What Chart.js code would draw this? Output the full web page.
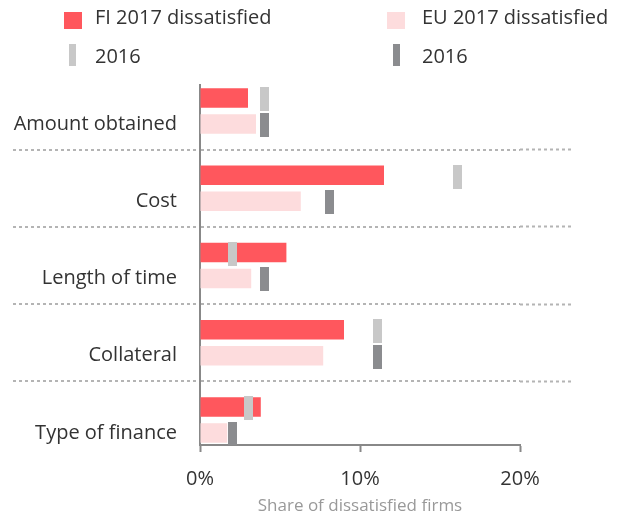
<!DOCTYPE html>
<html>
<head>
<meta charset="utf-8">
<script src="https://cdn.jsdelivr.net/npm/chart.js@4"></script>
<style>
  body { margin: 0; background: #fff; }
  #wrap { position: relative; width: 625px; height: 519px; }
  #legend { position: absolute; left: 0; top: 0; font: 20px 'Open Sans'; color: #333; }
  #legend span { position: absolute; display: block; }
  #legend .txt { line-height: 27px; white-space: nowrap; }
  /* columns */
  #legend .c0.box { left: 64px; } #legend .c0.txt { left: 95px; }
  #legend .c1.box { left: 387px; } #legend .c1.txt { left: 422px; }
  #legend .c0.mark { left: 69px; } #legend .c1.mark { left: 393px; }
  /* rows */
  #legend .box { top: 12px; width: 18px; height: 17px; }
  #legend .mark { top: 44px; width: 7px; height: 22px; }
  #legend .r0.txt { top: 3px; } #legend .r1.txt { top: 42px; }
</style>
</head>
<body>
<div id="wrap">
  <canvas id="chart"></canvas>
  <div id="legend"></div>
</div>
<script>
const categories = ['Amount obtained', 'Cost', 'Length of time', 'Collateral', 'Type of finance']
const fi2017 = [3.0, 11.5, 5.4, 9.0, 3.8]
const eu2017 = [3.5, 6.3, 3.2, 7.7, 1.7]
const fi2016 = [4.0, 16.1, 2.0, 11.1, 3.0]
const eu2016 = [4.0, 8.1, 4.0, 11.1, 2.0]
const xTicks = [0, 10, 20]

const red = '#ff575d'
const pink = '#fddcdd'
const lightGray = '#c8c8c8'
const darkGray = '#8b8c8f'
const dotted = '#b4b4b4'

Chart.defaults.font.family = "'Open Sans'"

// small vertical bar used as the 2016 marker
function markerStyle(color) {
  const c = document.createElement('canvas')
  c.width = 9
  c.height = 24
  const g = c.getContext('2d')
  g.fillStyle = color
  g.fillRect(0, 0, 9, 24)
  return c
}

const bars = vals => vals.map((v, i) => ({ x: v, y: i }))
const marks = (vals, shift) => vals.map((v, i) => ({ x: v, y: i + shift }))

const yRange = { min: -0.337, max: 4.324 }

const chart = new Chart(document.getElementById('chart'), {
  type: 'bar',
  data: {
    datasets: [
      { type: 'bar', label: 'FI 2017 dissatisfied', data: bars(fi2017), backgroundColor: red, yAxisID: 'y', order: 1, categoryPercentage: 0.673, barPercentage: 0.75 },
      { type: 'bar', label: 'EU 2017 dissatisfied', data: bars(eu2017), backgroundColor: pink, yAxisID: 'y', order: 1, categoryPercentage: 0.673, barPercentage: 0.75 },
      { type: 'scatter', label: '2016', data: marks(fi2016, -0.15), backgroundColor: lightGray, pointStyle: markerStyle(lightGray), yAxisID: 'y', order: 0 },
      { type: 'scatter', label: '2016', data: marks(eu2016, 0.18), backgroundColor: darkGray, pointStyle: markerStyle(darkGray), yAxisID: 'y', order: 0 }
    ]
  },
  options: {
    animation: false,
    responsive: true,
    maintainAspectRatio: false,
    indexAxis: 'y',
    layout: { padding: { top: 85, left: 0, right: 53, bottom: 3 } },
    plugins: { legend: { display: false }, tooltip: { enabled: false } },
    scales: {
      x: {
        type: 'linear',
        min: xTicks[0],
        max: xTicks[xTicks.length - 1],
        ticks: { stepSize: 10, callback: v => v + '%', color: '#333', font: { size: 20 }, padding: 15.5 },
        grid: { drawOnChartArea: false, tickLength: 7, tickWidth: 2, tickColor: '#888' },
        border: { color: '#888', width: 2 },
        // chart.js counts tick padding twice when sizing, so the title padding takes it back
        title: { display: true, text: 'Share of dissatisfied firms', color: '#999', font: { size: 17 }, padding: { top: -11.4, bottom: 0 } }
      },
      y: {
        type: 'linear',
        reverse: true,
        offset: false,
        min: yRange.min,
        max: yRange.max,
        ticks: {
          stepSize: 1, includeBounds: false, autoSkip: false,
          callback: v => categories[v] ?? '',
          color: '#333', font: { size: 20 }, padding: -164, labelOffset: 13
        },
        grid: { offset: true, color: dotted, lineWidth: 2, tickLength: 187, tickColor: dotted, tickWidth: 2, tickBorderDash: [3, 3] },
        border: { color: '#888', width: 2, dash: [3, 3] },
        // labels sit inside the long dotted ticks, keep the axis box wide enough for them
        afterFit: s => { s.width = 200 }
      },
      y2: {
        type: 'linear',
        position: 'right',
        reverse: true,
        offset: false,
        min: yRange.min,
        max: yRange.max,
        ticks: { display: false, stepSize: 1, includeBounds: false },
        grid: { offset: true, drawOnChartArea: false, tickLength: 52, tickColor: dotted, tickWidth: 2, tickBorderDash: [3, 3] },
        border: { display: false }
      }
    }
  }
})

// html legend, two columns
const legend = document.getElementById('legend')
chart.data.datasets.forEach((ds, i) => {
  const col = 'c' + (i % 2)
  const row = 'r' + Math.floor(i / 2)
  const icon = document.createElement('span')
  icon.className = (ds.type === 'bar' ? 'box ' : 'mark ') + col + ' ' + row
  icon.style.background = ds.backgroundColor
  const txt = document.createElement('span')
  txt.className = 'txt ' + col + ' ' + row
  txt.textContent = ds.label
  legend.appendChild(icon)
  legend.appendChild(txt)
})
</script>
</body>
</html>
